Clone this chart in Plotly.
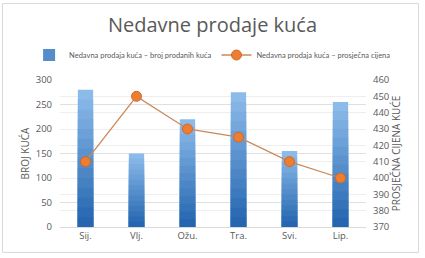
import plotly.graph_objects as go

months = ["Sij.", "Vlj.", "Ožu.", "Tra.", "Svi.", "Lip."]
houses_sold = [280, 150, 220, 275, 155, 255]
avg_price = [410, 450, 430, 425, 410, 400]

font_c = "#595959"
fig = go.Figure()

# gradient bars built as overlaid fractions of each bar's value
steps = 14
top_rgb = (140, 187, 234)
bot_rgb = (38, 102, 176)
for k in range(steps):
    f = 1 - k / steps
    t = k / (steps - 1)
    c = tuple(int(top_rgb[i] + (bot_rgb[i] - top_rgb[i]) * t) for i in range(3))
    fig.add_trace(go.Bar(
        x=months, y=[v * f for v in houses_sold],
        name="Nedavna prodaja kuća – broj prodanih kuća",
        marker=dict(color="rgb(%d,%d,%d)" % c, line=dict(width=0)),
        width=0.3, yaxis="y", showlegend=(k == steps // 2), legendrank=1,
        hoverinfo="skip" if k else None))

fig.add_trace(go.Scatter(
    x=months, y=avg_price, name="Nedavna prodaja kuća – prosječna cijena",
    mode="lines+markers", yaxis="y2", legendrank=2,
    line=dict(color="#c98a5c", width=1.3),
    marker=dict(color="#ed7d31", size=10, line=dict(color="#d0682a", width=1))))

fig.update_layout(
    width=425, height=258,
    margin=dict(l=60, r=59, t=80, b=31),
    barmode="overlay",
    paper_bgcolor="white", plot_bgcolor="white",
    font=dict(family="Open Sans, Arial, sans-serif", color=font_c, size=10),
    title=dict(text="Nedavne prodaje kuća", x=0.5, xanchor="center", y=0.903, yanchor="middle",
               font=dict(size=20, color=font_c)),
    legend=dict(orientation="h", x=-0.101, xanchor="left", y=1.17, yanchor="middle",
                font=dict(family="Lato, Open Sans, sans-serif", size=7.5, color=font_c),
                itemwidth=30, tracegroupgap=0, bgcolor="rgba(0,0,0,0)"),
    xaxis=dict(showgrid=False, showline=True, linecolor="#d9d9d9", ticks="",
               tickfont=dict(size=9.5, color=font_c)),
    yaxis=dict(range=[0, 300], dtick=50, showgrid=True, gridcolor="#e0e0e0",
               ticklabelstandoff=7,
               title=dict(text="BROJ KUĆA", font=dict(size=10, color=font_c), standoff=4),
               zeroline=False, tickfont=dict(size=9.5, color=font_c)),
    yaxis2=dict(range=[370, 460], dtick=10, overlaying="y", side="right",
                showgrid=True, gridcolor="#eeeeee", ticklabelstandoff=6,
                title=dict(text="PROSJEČNA CIJENA KUĆE", font=dict(size=10, color=font_c), standoff=4),
                zeroline=False, tickfont=dict(size=9.5, color=font_c)),
    shapes=[dict(type="rect", xref="paper", yref="paper", x0=-0.188, x1=1.1716, y0=-0.173, y1=1.52,
                 line=dict(color="#d9d9d9", width=1), layer="below")],
)
fig.write_html("out.html")
